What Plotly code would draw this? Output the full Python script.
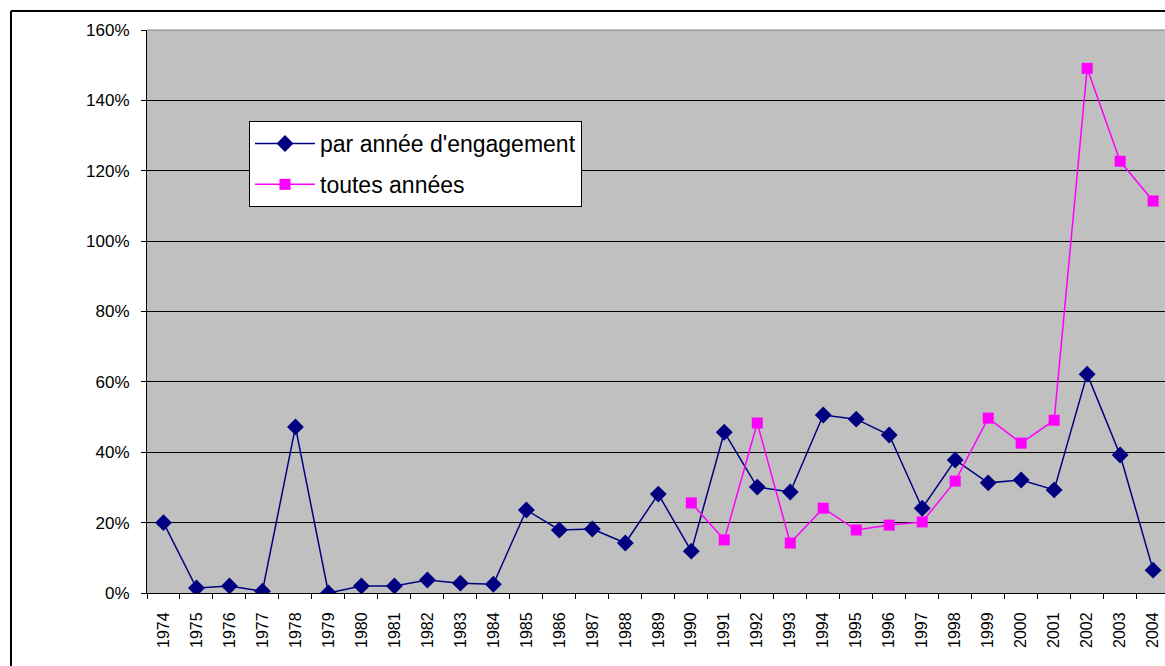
import plotly.graph_objects as go

years = [str(y) for y in range(1974, 2005)]
par_annee = [20.0, 1.4, 2.0, 0.5, 47.2, 0.0, 2.0, 2.0, 3.7, 2.8, 2.5,
             23.6, 17.9, 18.2, 14.2, 28.1, 11.9, 45.7, 30.1, 28.7, 50.6,
             49.4, 44.9, 24.1, 37.8, 31.3, 32.1, 29.3, 62.2, 39.2, 6.5]
toutes_years = [str(y) for y in range(1990, 2005)]
toutes = [25.6, 15.1, 48.3, 14.2, 24.1, 17.9, 19.3, 20.2, 31.8, 49.7,
          42.6, 49.1, 149.1, 122.7, 111.4]
y_ticks = [0, 20, 40, 60, 80, 100, 120, 140, 160]
y_tick_labels = [f"{v}%" for v in y_ticks]

REG = "Liberation Sans, Arial, sans-serif"

fig = go.Figure()
fig.add_trace(go.Scatter(
    x=years, y=par_annee, name="par année d'engagement", mode="lines+markers",
    legendgroup="a",
    line=dict(color="#000080", width=1.5),
    marker=dict(symbol="diamond", size=13, color="#000080"),
))
fig.add_trace(go.Scatter(
    x=toutes_years, y=toutes, name="toutes années", mode="lines+markers",
    legendgroup="b",
    line=dict(color="#FF00FF", width=1.5),
    marker=dict(symbol="square", size=11, color="#FF00FF"),
))

W, H = 1165, 666
L, T, B, R = 147, 30, 73, 0
pw, ph = W - L - R, H - T - B

def px(x):
    return (x - L) / pw

def py(y):
    return 1 - (y - T) / ph

fig.update_layout(
    width=W, height=H,
    margin=dict(l=L, r=R, t=T, b=B),
    paper_bgcolor="white",
    plot_bgcolor="#C0C0C0",
    showlegend=True,
    legend=dict(
        x=px(249), y=py(121), xanchor="left", yanchor="top",
        bgcolor="white", bordercolor="black", borderwidth=1,
        font=dict(family=REG, size=23, color="black"),
        itemwidth=60, tracegroupgap=8,
    ),
    xaxis=dict(
        type="category", categoryorder="array", categoryarray=years,
        range=[-0.5, 30.36], tickangle=-90,
        ticks="outside", tickson="boundaries", ticklen=5, tickcolor="black",
        ticklabelstandoff=12,
        showline=True, linecolor="black", linewidth=1,
        showgrid=False, zeroline=False,
        tickfont=dict(family=REG, size=16, color="black"),
    ),
    yaxis=dict(
        range=[0, 160], tickvals=y_ticks, ticktext=y_tick_labels,
        ticks="outside", ticklen=5, tickcolor="black",
        ticklabelstandoff=8,
        showline=True, linecolor="black", linewidth=1,
        showgrid=True, gridcolor="black", gridwidth=1, zeroline=False,
        tickfont=dict(family=REG, size=17, color="black"),
    ),
    shapes=[
        dict(type="line", xref="paper", yref="paper",
             x0=px(11), x1=px(11), y0=py(11), y1=py(666), line=dict(color="black", width=2)),
        dict(type="line", xref="paper", yref="paper",
             x0=px(11), x1=px(1165), y0=py(11), y1=py(11), line=dict(color="black", width=2)),
        dict(type="line", xref="paper", yref="paper",
             x0=0, x1=1, y0=1, y1=1, line=dict(color="#808080", width=1)),
    ],
)

fig.write_html(
    "out.html",
    config={"displayModeBar": False},
    post_script="document.body.style.margin='0';document.body.style.overflow='hidden';",
)
